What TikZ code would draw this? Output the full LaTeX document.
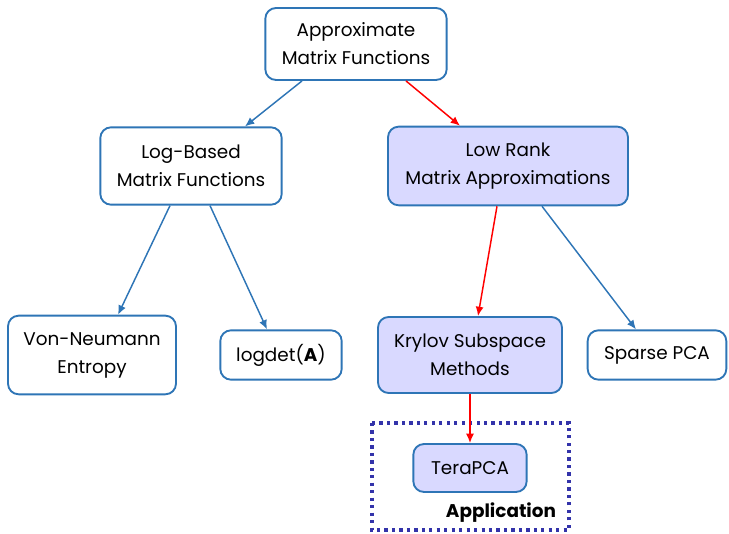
\documentclass[tikz,border=0pt]{standalone}
\usepackage{fontspec}
\setmainfont{Poppins}
\usetikzlibrary{arrows.meta,calc}
\definecolor{boxblue}{RGB}{46,117,182}
\definecolor{lavender}{RGB}{217,217,255}
\definecolor{dotblue}{RGB}{51,51,170}

\begin{document}
\begin{tikzpicture}[x=0.75pt,y=-0.75pt,
    topic/.style={draw=boxblue,line width=1.4pt,rounded corners=8pt,fill=white,align=center,
      font=\fontsize{13.8}{21}\selectfont,inner sep=0pt},
    lowrank/.style={topic,fill=lavender},
    blueline/.style={draw=boxblue,line width=1.1pt,-{Latex[length=7pt,width=6pt]}},
    redline/.style={draw=red,line width=1.1pt,-{Latex[length=7pt,width=6pt]}}]
    \useasboundingbox (0,0) rectangle (729,534);
    \draw[dotblue,line width=2.4pt,dash pattern=on 2.4pt off 3.2pt] (372,423) rectangle (569,530);
    \node[topic,minimum width=136pt,minimum height=54pt] (amf) at (356,44) {Approximate\\Matrix Functions};
    \node[topic,minimum width=136pt,minimum height=58pt] (lbmf) at (191,166) {Log-Based\\Matrix Functions};
    \node[lowrank,minimum width=180pt,minimum height=59pt] (lrma) at (508,166) {Low Rank\\Matrix Approximations};
    \node[topic,minimum width=126pt,minimum height=59pt] (vne) at (92,355) {Von-Neumann\\Entropy};
    \node[topic,minimum width=91pt,minimum height=37pt] (ldet) at (281,355) {logdet(\textbf{A})};
    \node[lowrank,minimum width=138pt,minimum height=57pt] (ksm) at (470,355) {Krylov Subspace\\Methods};
    \node[topic,minimum width=104pt,minimum height=37pt] (spca) at (657,355) {Sparse PCA};
    \node[lowrank,minimum width=85pt,minimum height=36pt] (tpca) at (470,468) {TeraPCA};
    \node[font=\fontsize{13.8}{15}\selectfont\bfseries] (app) at (501,513) {Application};
    \draw[blueline] ($(amf.south)+(-54,0)$) -- ($(lbmf.north)+(54,0)$);
    \draw[redline] ($(amf.south)+(50,0)$) -- ($(lrma.north)+(-48,0)$);
    \draw[blueline] ($(lbmf.south)+(-21,0)$) -- ($(vne.north)+(26,0)$);
    \draw[blueline] ($(lbmf.south)+(19,0)$) -- ($(ldet.north)+(-14,0)$);
    \draw[redline] ($(lrma.south)+(-11,0)$) -- ($(ksm.north)+(8,0)$);
    \draw[blueline] ($(lrma.south)+(34,0)$) -- ($(spca.north)+(-21,0)$);
    \draw[redline] (ksm) -- (tpca);
\end{tikzpicture}
\end{document}
